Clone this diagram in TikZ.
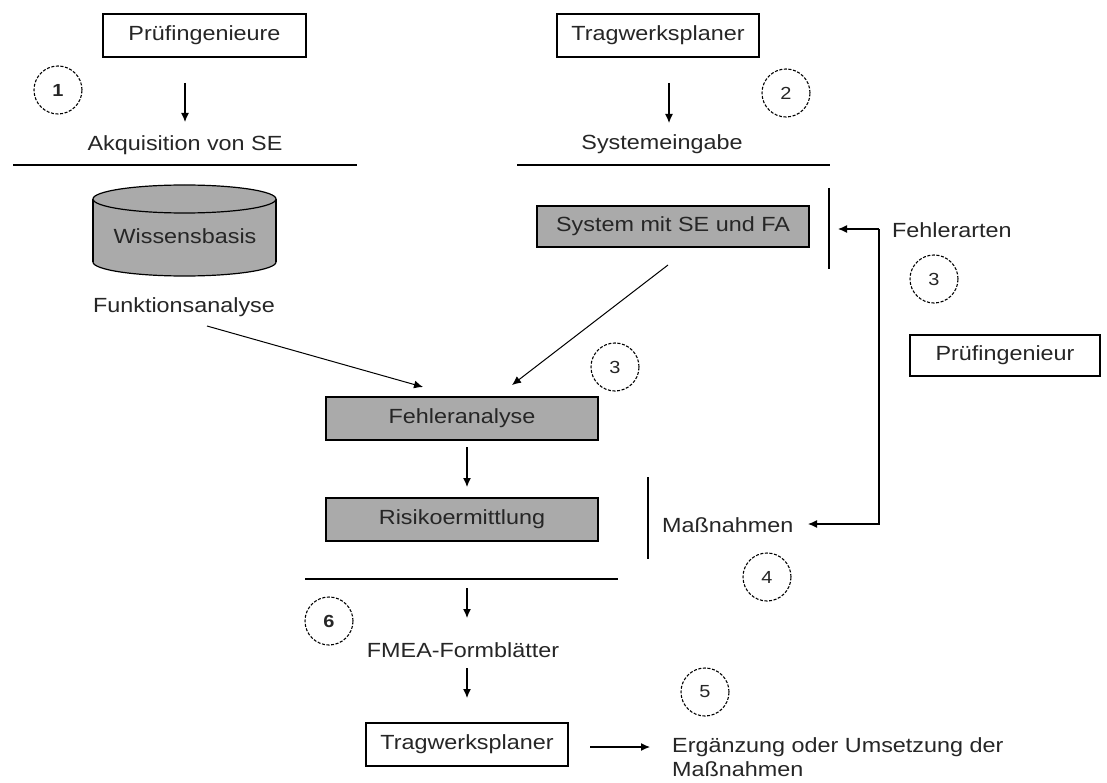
\documentclass[tikz,border=0pt]{standalone}
\usepackage{fontspec}
\setmainfont{Liberation Sans}[FakeStretch=1.14]
\usetikzlibrary{arrows.meta}
\definecolor{boxgray}{RGB}{170,170,170}
\definecolor{txt}{RGB}{38,38,38}
\begin{document}
\begin{tikzpicture}[x=1pt,y=-1pt,
  every node/.style={font=\fontsize{20.5}{27}\selectfont, text=txt, inner sep=0pt},
  wbox/.style={draw=black, line width=1.3pt, fill=white, minimum height=43pt},
  gbox/.style={draw=black, line width=1.3pt, fill=boxgray, minimum height=43pt},
  circ/.style={circle, draw=black, dash pattern=on 3pt off 1.6pt, line width=1.1pt, minimum size=48pt, font=\fontsize{17.5}{20}\selectfont},
  arr/.style={-{Latex[length=9pt,width=8pt]}, line width=1.2pt},
  sep/.style={line width=1.3pt}]
\useasboundingbox (0,0) rectangle (1107,783);
\fill[white] (0,0) rectangle (1107,783);

% boxes
\node[wbox, minimum width=203pt] (pi) at (204.5,35.5) {Prüfingenieure};
\node[wbox, minimum width=202pt] (tp1) at (658,35.5) {Tragwerksplaner};
\node[gbox, minimum width=272pt, minimum height=41pt] (sys) at (673,226.5) {System mit SE und FA};
\node[gbox, minimum width=272pt] (fa) at (462,418.5) {Fehleranalyse};
\node[gbox, minimum width=272pt] (ri) at (462,519.5) {Risikoermittlung};
\node[wbox, minimum width=190pt, minimum height=41pt] (pi2) at (1005,355.5) {Prüfingenieur};
\node[wbox, minimum width=202pt] (tp2) at (467,744.5) {Tragwerksplaner};

% cylinder
\filldraw[fill=boxgray, line width=1.2pt] (184.5,262) ellipse [x radius=91.5pt, y radius=14pt];
\fill[boxgray] (93,199) rectangle (276,262);
\draw[line width=1.2pt] (93,199) -- (93,262) (276,199) -- (276,262);
\filldraw[fill=boxgray, line width=1.2pt] (184.5,199) ellipse [x radius=91.5pt, y radius=14pt];
\node (wb) at (185,236) {Wissensbasis};

% texts
\node (akq) at (185,145) {Akquisition von SE};
\node (sein) at (662,144) {Systemeingabe};
\node (funk) at (184,307) {Funktionsanalyse};
\node[anchor=west] (fart) at (892,230) {Fehlerarten};
\node[anchor=west] (mass) at (662,525) {Maßnahmen};
\node (fmea) at (463,650) {FMEA-Formblätter};
\node[anchor=north west, align=left] (erg) at (672,737) {Ergänzung oder Umsetzung der\\[-2.5pt]Maßnahmen};

% circles
\node[circ] (c1) at (58,90) {\bfseries 1};
\node[circ] (c2) at (786,93) {2};
\node[circ] (c3a) at (934,279) {3};
\node[circ] (c3b) at (615,367) {3};
\node[circ] (c4) at (767,577) {4};
\node[circ] (c5) at (705,692) {5};
\node[circ] (c6) at (329,621) {\bfseries 6};

% separator lines
\draw[sep] (13,165) -- (357,165);
\draw[sep] (517,165) -- (830,165);
\draw[sep] (305,579) -- (618,579);
\draw[sep] (829,188) -- (829,269);
\draw[sep] (648,477) -- (648,559);

% arrow end points
\coordinate (a1s) at (185,83);  \coordinate (a1e) at (185,122);
\coordinate (a2s) at (669,83);  \coordinate (a2e) at (669,123);
\coordinate (a3s) at (207,326); \coordinate (a3e) at (423,387);
\coordinate (a4s) at (668,265); \coordinate (a4e) at (512,385);
\coordinate (a5s) at (467,447); \coordinate (a5e) at (467,487);
\coordinate (a6s) at (467,588); \coordinate (a6e) at (467,618);
\coordinate (a7s) at (467,668); \coordinate (a7e) at (467,698);
\coordinate (a8s) at (590,747); \coordinate (a8e) at (650,747);
\coordinate (lt) at (879,229);  \coordinate (lb) at (879,524);
\coordinate (lte) at (838,229); \coordinate (lbe) at (808,524);

\draw[arr] (a1s) -- (a1e);
\draw[arr] (a2s) -- (a2e);
\draw[arr, line width=1pt] (a3s) -- (a3e);
\draw[arr, line width=1pt] (a4s) -- (a4e);
\draw[arr] (a5s) -- (a5e);
\draw[arr] (a6s) -- (a6e);
\draw[arr] (a7s) -- (a7e);
\draw[arr] (a8s) -- (a8e);
\draw[arr] (lt) -- (lte);
\draw[arr] (lt) -- (lb) -- (lbe);
\end{tikzpicture}
\end{document}
